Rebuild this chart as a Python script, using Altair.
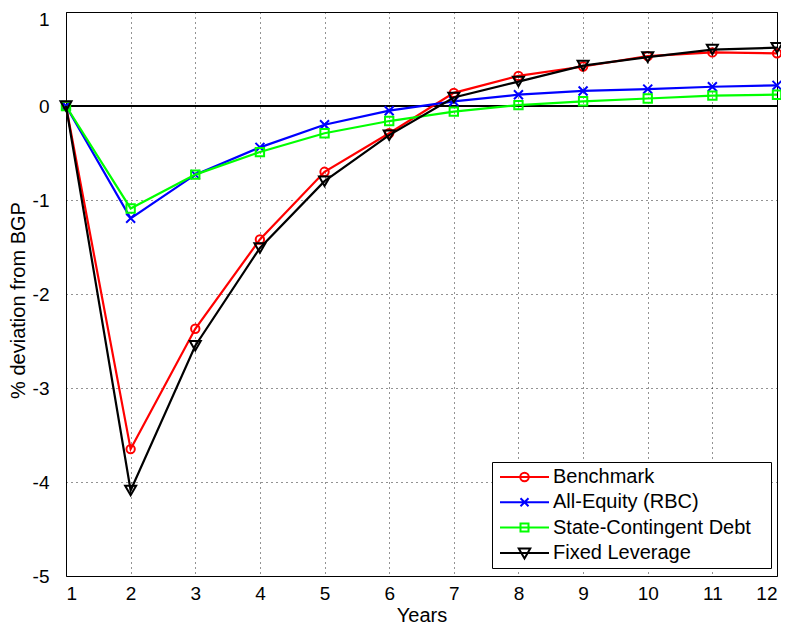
import altair as alt
import pandas as pd

years = list(range(1, 13))
series_names = ["Benchmark", "All-Equity (RBC)", "State-Contingent Debt", "Fixed Leverage"]
benchmark = [0, -3.65, -2.37, -1.42, -0.70, -0.29, 0.14, 0.32, 0.42, 0.53, 0.57, 0.56]
all_equity = [0, -1.195, -0.73, -0.44, -0.20, -0.05, 0.05, 0.12, 0.16, 0.18, 0.205, 0.22]
state_contingent = [0, -1.09, -0.73, -0.49, -0.29, -0.16, -0.06, 0.01, 0.05, 0.08, 0.11, 0.12]
fixed_leverage = [0, -4.09, -2.55, -1.51, -0.80, -0.31, 0.09, 0.26, 0.43, 0.52, 0.60, 0.62]
x_ticks = list(range(1, 13))
y_ticks = [-5, -4, -3, -2, -1, 0, 1]

colors = ["#ff0000", "#0000ff", "#00ff00", "#000000"]
marker_shapes = ["circle", "M-1,-1L1,1M1,-1L-1,1", "square", "triangle-down"]
marker_sizes = [70, 80, 70, 121]
legend_paths = [
    "M-4.9,0H4.9M0.85,0A0.85,0.85,0,1,1,-0.85,0A0.85,0.85,0,1,1,0.85,0",
    "M-4.9,0H4.9M-0.8,-0.8L0.8,0.8M0.8,-0.8L-0.8,0.8",
    "M-4.9,0H4.9M-0.8,-0.8H0.8V0.8H-0.8Z",
    "M-4.9,0H4.9M0,1.1L1.15,-0.9H-1.15Z",
]

values = [benchmark, all_equity, state_contingent, fixed_leverage]
rows = []
for name, vals in zip(series_names, values):
    for t, v in zip(years, vals):
        rows.append({"series": name, "year": t, "value": v})
df = pd.DataFrame(rows)

FONT = "Liberation Sans"

x_enc = alt.X(
    "year:Q",
    scale=alt.Scale(domain=[1, 12], nice=False),
    axis=alt.Axis(
        values=x_ticks, title="Years", grid=True,
        labelExpr="toString(datum.value)",
        labelFontSize=19, titleFontSize=20, labelPadding=8,
        titleY=45, titleBaseline="alphabetic", titleFontWeight="normal",
        ticks=False, tickSize=0, domain=False,
    ),
)
y_enc = alt.Y(
    "value:Q",
    scale=alt.Scale(domain=[-5, 1], nice=False),
    axis=alt.Axis(
        values=y_ticks, title="% deviation from BGP", grid=True,
        labelExpr="toString(datum.value)",
        labelOffset={"condition": {"test": "datum.value == 1", "value": 7}, "value": 0},
        labelFontSize=19, titleFontSize=20, labelPadding=17,
        titleX=-42, titleY=288, titleAngle=270, titleAlign="center",
        titleBaseline="alphabetic", titleFontWeight="normal",
        ticks=False, tickSize=0, domain=False,
    ),
)

base = alt.Chart(df)

zero_line = base.mark_rule(color="black", strokeWidth=1.5).encode(y=alt.datum(0))

layers = [zero_line]
for name, col, shp, sz in zip(series_names, colors, marker_shapes, marker_sizes):
    sub = base.transform_filter(alt.datum.series == name)
    layers.append(
        sub.mark_line(color=col, strokeWidth=2.2).encode(x=x_enc, y=y_enc)
    )
    layers.append(
        sub.mark_point(shape=shp, size=sz, color=col, filled=False,
                       strokeWidth=2, opacity=1).encode(x=x_enc, y=y_enc)
    )

leg = dict(
    title=None, orient="none", legendX=426, legendY=450,
    labelFontSize=20, labelFont=FONT, labelColor="black", labelLimit=500,
    symbolSize=100, symbolStrokeWidth=2, symbolOffset=17.5, labelOffset=18.5,
    rowPadding=5.3, padding=5, strokeColor="black", fillColor="white",
    cornerRadius=0, symbolOpacity=1,
    labelExpr="datum.label + '\u2800'",
)

legend_layer = base.transform_filter("false").mark_point(
    filled=False, strokeWidth=2, size=100, opacity=1
).encode(
    x=x_enc, y=y_enc,
    color=alt.Color("series:N", scale=alt.Scale(domain=series_names, range=colors),
                    legend=alt.Legend(**leg)),
    shape=alt.Shape("series:N", scale=alt.Scale(domain=series_names, range=legend_paths),
                    legend=alt.Legend(**leg)),
)
layers.append(legend_layer)

chart = alt.layer(*layers).properties(
    width=711, height=564,
    autosize=alt.AutoSizeParams(type="none"),
    padding={"left": 58, "top": 4, "right": 4, "bottom": 48},
    background="white",
).configure_view(
    stroke="black", strokeWidth=1
).configure_axis(
    labelFont=FONT, titleFont=FONT, labelColor="black", titleColor="black",
    gridColor="black", gridOpacity=0.85, gridDash=[1, 4], gridWidth=1,
).configure_legend(
    labelFont=FONT,
)

chart.save("out.html", embed_options={"renderer": "svg", "actions": False})
